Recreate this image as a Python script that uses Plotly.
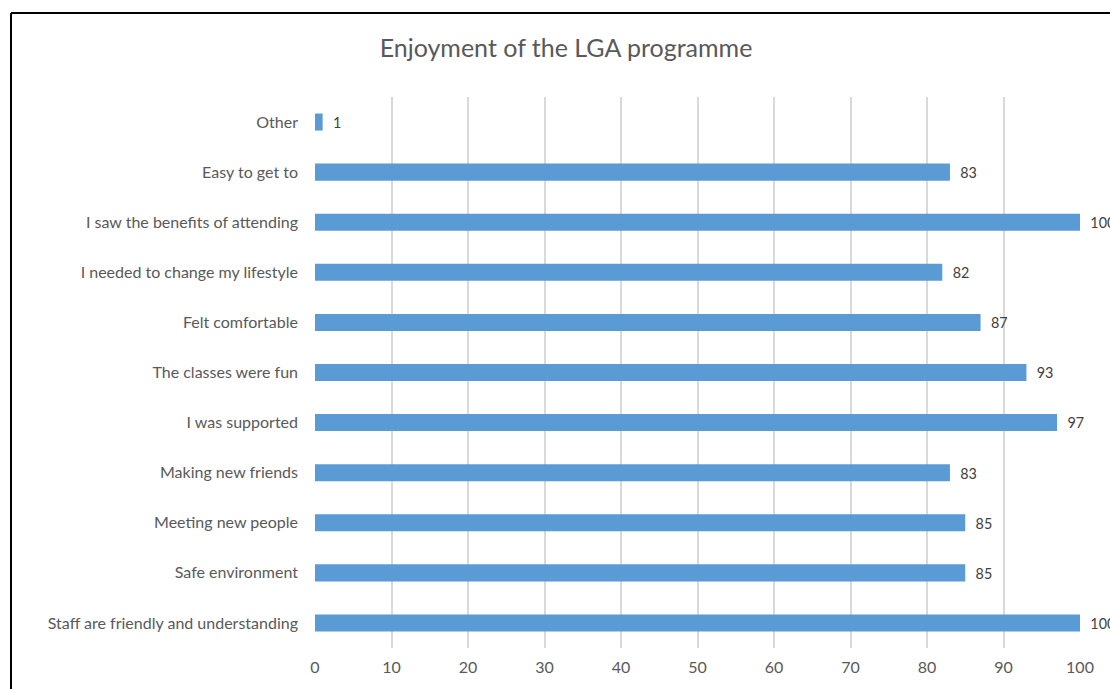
import plotly.graph_objects as go

categories = [
    "Staff are friendly and understanding",
    "Safe environment",
    "Meeting new people",
    "Making new friends",
    "I was supported",
    "The classes were fun",
    "Felt comfortable",
    "I needed to change my lifestyle",
    "I saw the benefits of attending",
    "Easy to get to",
    "Other",
]
values = [100, 85, 85, 83, 97, 93, 87, 82, 100, 83, 1]
x_ticks = [0, 10, 20, 30, 40, 50, 60, 70, 80, 90, 100]
title_text = "Enjoyment of the LGA programme"

FONT = "Lato, Carlito, Calibri, sans-serif"
W, H = 1110, 689
L, R, T, B = 315, 30, 97, 41
pw, ph = W - L - R, H - T - B

fig = go.Figure(
    go.Bar(
        y=categories,
        x=values,
        orientation="h",
        marker=dict(color="#5b9bd5", line=dict(width=0)),
        text=[f"  {v}" for v in values],
        textposition="outside",
        textfont=dict(family=FONT, size=16, color="#404040"),
        cliponaxis=False,
        width=0.34,
    )
)

def px_x(p):
    return (p - L) / pw

def px_y(p):
    return (H - B - p) / ph

fig.update_layout(
    width=W,
    height=H,
    margin=dict(l=L, r=R, t=T, b=B),
    paper_bgcolor="white",
    plot_bgcolor="white",
    showlegend=False,
    title=dict(
        text=title_text,
        x=566 / W,
        xanchor="center",
        y=1 - 48 / H,
        yanchor="middle",
        font=dict(family=FONT, size=25, color="#595959"),
    ),
    xaxis=dict(
        range=[0, 100],
        tickvals=x_ticks,
        showgrid=True,
        gridcolor="#d9d9d9",
        gridwidth=1.5,
        zeroline=False,
        showline=False,
        ticks="",
        ticklabelstandoff=8,
        tickfont=dict(family=FONT, size=16, color="#595959"),
    ),
    yaxis=dict(
        showgrid=False,
        zeroline=False,
        showline=False,
        ticks="",
        ticklabelstandoff=16,
        tickfont=dict(family=FONT, size=16, color="#595959"),
    ),
    shapes=[
        dict(type="line", xref="paper", yref="paper",
             x0=px_x(11), x1=px_x(1115), y0=px_y(13), y1=px_y(13),
             line=dict(color="black", width=2)),
        dict(type="line", xref="paper", yref="paper",
             x0=px_x(11), x1=px_x(11), y0=px_y(13), y1=px_y(695),
             line=dict(color="black", width=2)),
    ],
)

fig.write_html("out.html")
